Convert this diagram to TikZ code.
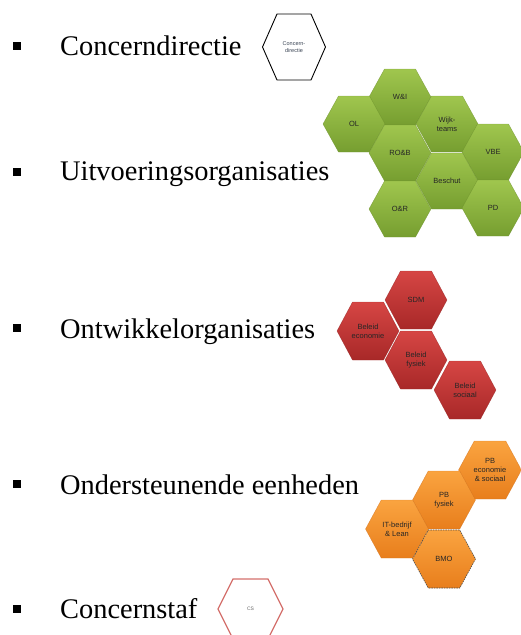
\documentclass[tikz,border=0pt]{standalone}
\usepackage{fontspec}
\setmainfont{Liberation Serif}
\newfontfamily\hexfont{Liberation Sans}

\definecolor{greentop}{RGB}{160,198,78}
\definecolor{greenbot}{RGB}{118,158,48}
\definecolor{greenedge}{RGB}{104,140,42}
\definecolor{redtop}{RGB}{214,70,68}
\definecolor{redbot}{RGB}{168,40,40}
\definecolor{rededge}{RGB}{145,34,34}
\definecolor{orangetop}{RGB}{250,164,64}
\definecolor{orangebot}{RGB}{232,126,28}
\definecolor{orangeedge}{RGB}{205,110,28}
\definecolor{staffedge}{RGB}{212,112,108}
\definecolor{dirtext}{RGB}{58,68,84}

\tikzset{
  greenhex/.style={top color=greentop, bottom color=greenbot, draw=greenedge, draw opacity=0.6, line width=0.4pt},
  redhex/.style={top color=redtop, bottom color=redbot, draw=rededge, draw opacity=0.6, line width=0.4pt},
  orangehex/.style={top color=orangetop, bottom color=orangebot, draw=orangeedge, draw opacity=0.6, line width=0.4pt},
  hexlabel/.style={font=\hexfont\fontsize{7.5}{8.8}\selectfont, align=center, text=black!85, inner sep=0.75pt},
  itemtext/.style={anchor=base west, inner sep=0pt, font=\fontsize{28.4}{32}\selectfont},
  itembullet/.style={fill=black, minimum size=8pt, inner sep=0pt},
}

\begin{document}
\begin{tikzpicture}[x=1pt,y=1pt,yscale=-1,xscale=1]
\useasboundingbox (0,0) rectangle (521,635);

%Bullet list
\node[itembullet] (bul1) at (17,46) {};
\node[itembullet] (bul2) at (17,172) {};
\node[itembullet] (bul3) at (17,328) {};
\node[itembullet] (bul4) at (17,484) {};
\node[itembullet] (bul5) at (17,609) {};
% Text Node
\draw (60,55) node [itemtext] (concerndir) {Concerndirectie};
% Text Node
\draw (60,180) node [itemtext] (uitvoering) {Uitvoeringsorganisaties};
% Text Node
\draw (60,338) node [itemtext] (ontwikkel) {Ontwikkelorganisaties};
% Text Node
\draw (60,494) node [itemtext] (ondersteun) {Ondersteunende eenheden};
% Text Node
\draw (60,618) node [itemtext] (concernstaf) {Concernstaf};

%Shape: Hexagon concerndirectie
\draw [line width=0.9pt, fill=white] (294,47) +(-31.5,0) -- +(-17,-33) -- +(17,-33) -- +(31.5,0) -- +(17,33) -- +(-17,33) -- cycle ;
\draw (294,47) node [hexlabel, text=dirtext, font=\hexfont\fontsize{5.5}{6.6}\selectfont] (hexcd) {Concern-\\directie};

%Shape: Hexagon uitvoeringsorganisaties
\draw [greenhex] (400,97) +(-31,0) -- +(-15.5,-28) -- +(15.5,-28) -- +(31,0) -- +(15.5,28) -- +(-15.5,28) -- cycle ;
\draw [greenhex] (354,124) +(-31,0) -- +(-15.5,-28) -- +(15.5,-28) -- +(31,0) -- +(15.5,28) -- +(-15.5,28) -- cycle ;
\draw [greenhex] (447,124) +(-31,0) -- +(-15.5,-28) -- +(15.5,-28) -- +(31,0) -- +(15.5,28) -- +(-15.5,28) -- cycle ;
\draw [greenhex] (400,153) +(-31,0) -- +(-15.5,-28) -- +(15.5,-28) -- +(31,0) -- +(15.5,28) -- +(-15.5,28) -- cycle ;
\draw [greenhex] (493,152) +(-31,0) -- +(-15.5,-28) -- +(15.5,-28) -- +(31,0) -- +(15.5,28) -- +(-15.5,28) -- cycle ;
\draw [greenhex] (447,181) +(-31,0) -- +(-15.5,-28) -- +(15.5,-28) -- +(31,0) -- +(15.5,28) -- +(-15.5,28) -- cycle ;
\draw [greenhex] (400,209) +(-31,0) -- +(-15.5,-28) -- +(15.5,-28) -- +(31,0) -- +(15.5,28) -- +(-15.5,28) -- cycle ;
\draw [greenhex] (493,208) +(-31,0) -- +(-15.5,-28) -- +(15.5,-28) -- +(31,0) -- +(15.5,28) -- +(-15.5,28) -- cycle ;
\draw (400,97) node [hexlabel] (hexwi) {W\&I};
\draw (354,124) node [hexlabel] (hexol) {OL};
\draw (447,124) node [hexlabel] (hexwijk) {Wijk-\\teams};
\draw (400,153) node [hexlabel] (hexrob) {RO\&B};
\draw (493,152) node [hexlabel] (hexvbe) {VBE};
\draw (447,181) node [hexlabel] (hexbeschut) {Beschut};
\draw (400,209) node [hexlabel] (hexor) {O\&R};
\draw (493,208) node [hexlabel] (hexpd) {PD};

%Shape: Hexagon ontwikkelorganisaties
\draw [redhex] (416,300) +(-31,0) -- +(-15.5,-29) -- +(15.5,-29) -- +(31,0) -- +(15.5,29) -- +(-15.5,29) -- cycle ;
\draw [redhex] (368,331) +(-31,0) -- +(-15.5,-29) -- +(15.5,-29) -- +(31,0) -- +(15.5,29) -- +(-15.5,29) -- cycle ;
\draw [redhex] (416,360) +(-31,0) -- +(-15.5,-29) -- +(15.5,-29) -- +(31,0) -- +(15.5,29) -- +(-15.5,29) -- cycle ;
\draw [redhex] (465,390) +(-31,0) -- +(-15.5,-29) -- +(15.5,-29) -- +(31,0) -- +(15.5,29) -- +(-15.5,29) -- cycle ;
\draw (416,300) node [hexlabel] (hexsdm) {SDM};
\draw (368,331) node [hexlabel] (hexecon) {Beleid\\economie};
\draw (416,360) node [hexlabel] (hexfys) {Beleid\\fysiek};
\draw (465,390) node [hexlabel] (hexsoc) {Beleid\\sociaal};

%Shape: Hexagon ondersteunende eenheden
\draw [orangehex] (490,470) +(-31.5,0) -- +(-15.75,-29) -- +(15.75,-29) -- +(31.5,0) -- +(15.75,29) -- +(-15.75,29) -- cycle ;
\draw [orangehex] (444,500) +(-31.5,0) -- +(-15.75,-29) -- +(15.75,-29) -- +(31.5,0) -- +(15.75,29) -- +(-15.75,29) -- cycle ;
\draw [orangehex] (397,529) +(-31.5,0) -- +(-15.75,-29) -- +(15.75,-29) -- +(31.5,0) -- +(15.75,29) -- +(-15.75,29) -- cycle ;
\draw [orangehex, draw=black!70, draw opacity=1, dash pattern=on 1.5pt off 1pt, line width=0.6pt] (444,559) +(-31.5,0) -- +(-15.75,-29) -- +(15.75,-29) -- +(31.5,0) -- +(15.75,29) -- +(-15.75,29) -- cycle ;
\draw (490,470) node [hexlabel] (hexpbeco) {PB\\economie\\\& sociaal};
\draw (444,500) node [hexlabel] (hexpbfys) {PB\\fysiek};
\draw (397,529) node [hexlabel] (hexit) {IT-bedrijf\\\& Lean};
\draw (444,559) node [hexlabel] (hexbmo) {BMO};

%Shape: Hexagon concernstaf
\draw [line width=1.2pt, draw=staffedge, fill=white] (250.5,609) +(-32.5,0) -- +(-17.5,-30) -- +(17.5,-30) -- +(32.5,0) -- +(17.5,30) -- +(-17.5,30) -- cycle ;
\draw (250.5,609) node [hexlabel, text=black!60, font=\hexfont\fontsize{5}{6}\selectfont] (hexcs) {CS};
\end{tikzpicture}
\end{document}
